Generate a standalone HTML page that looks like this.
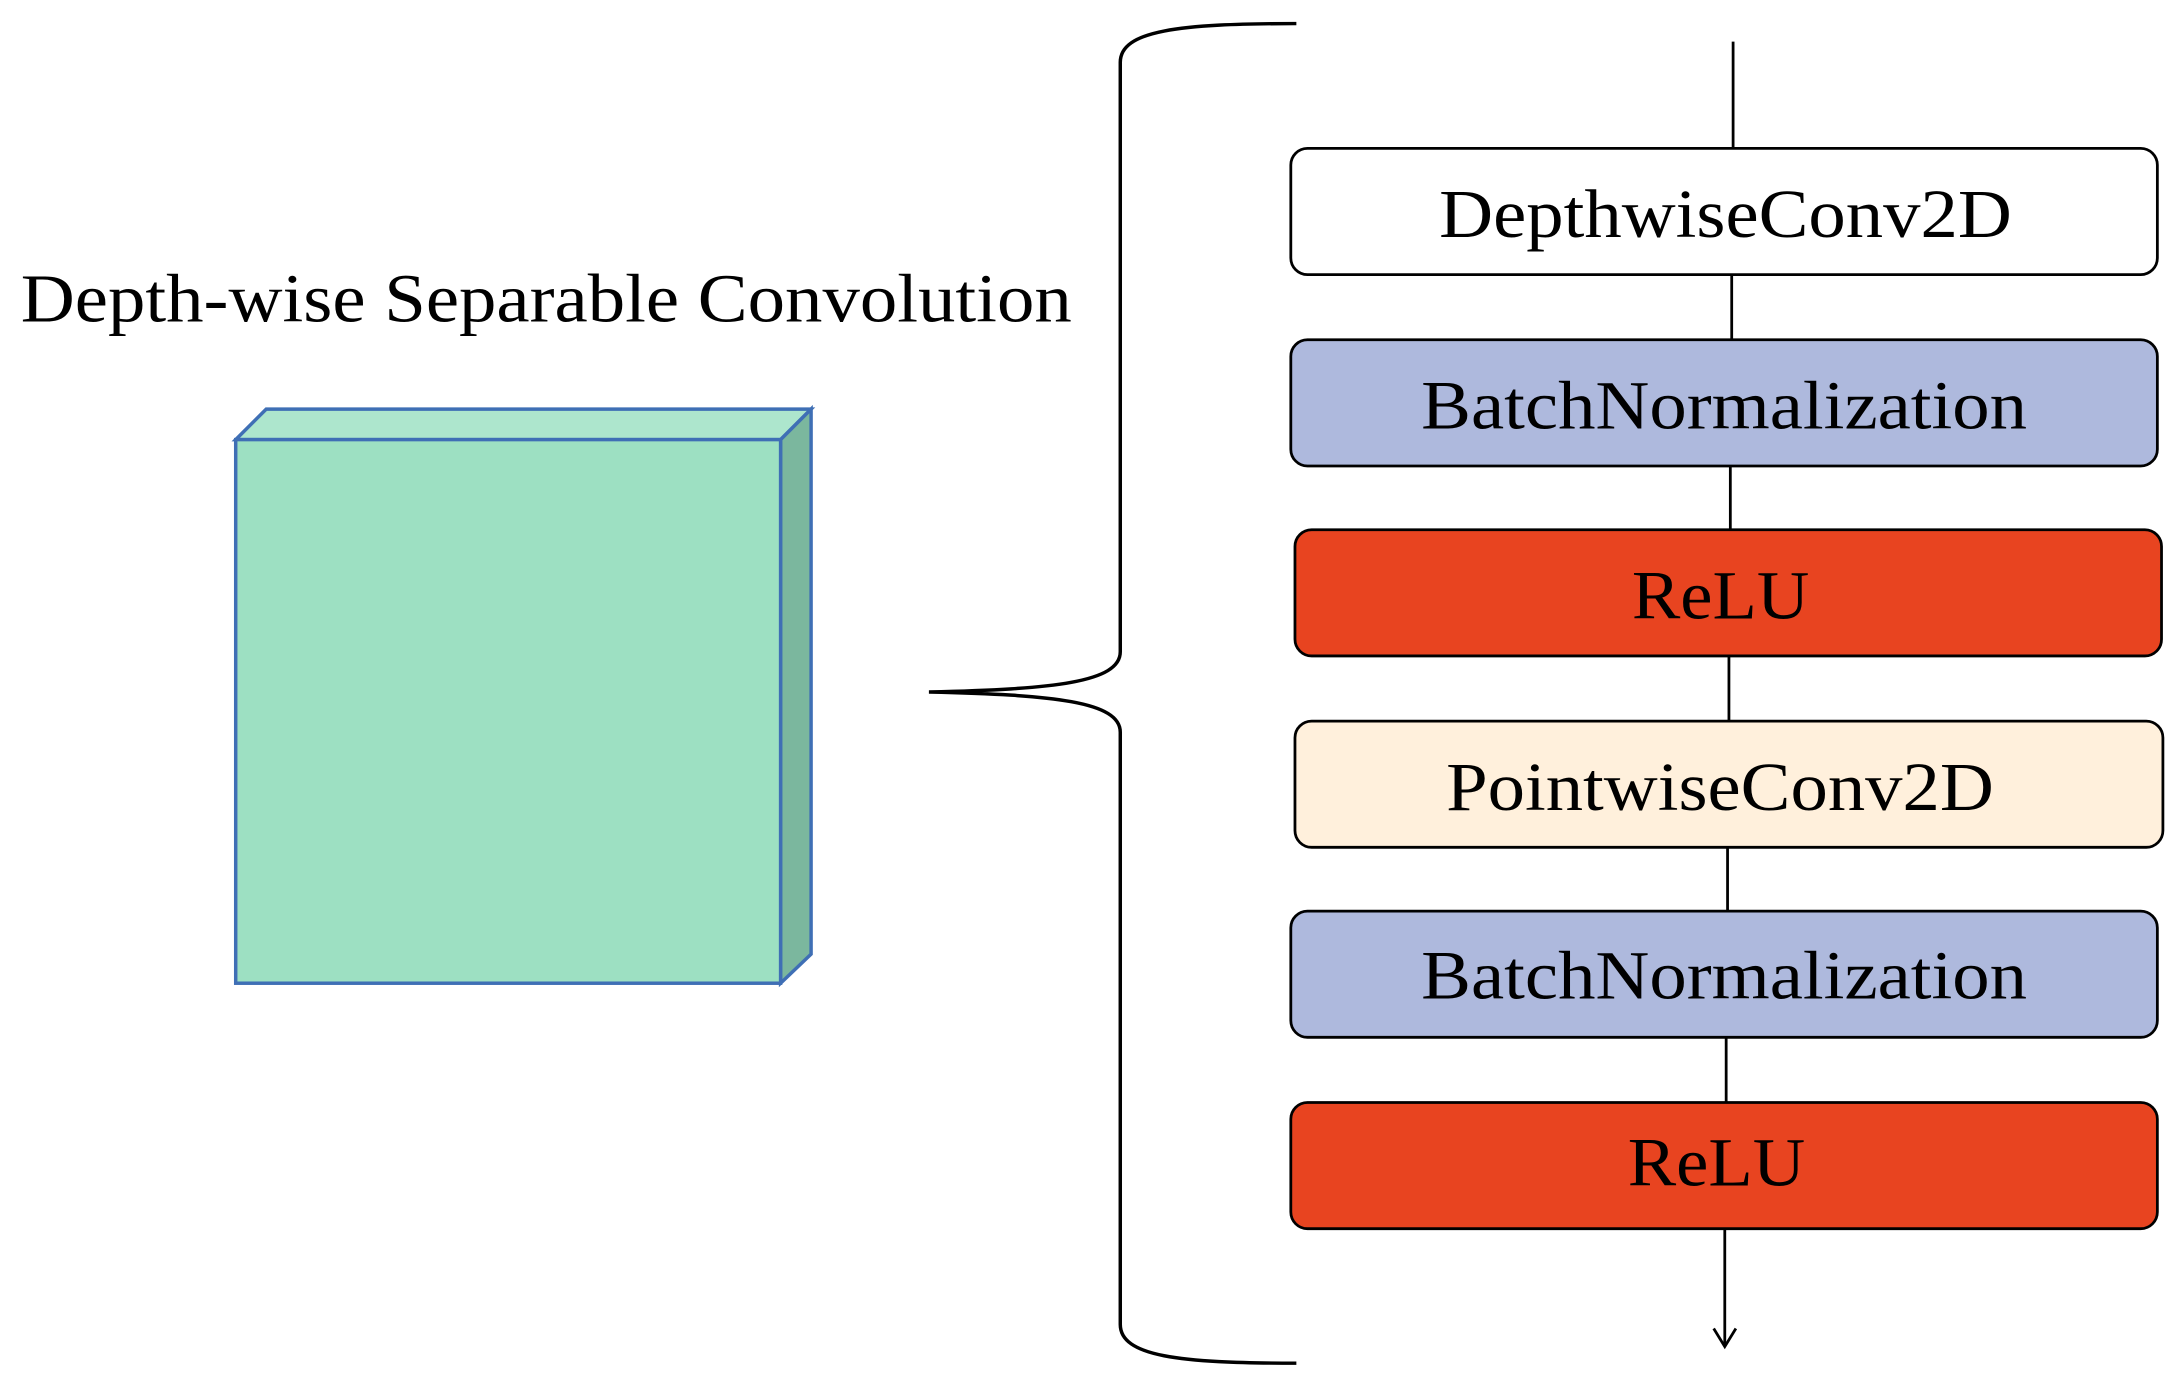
<!DOCTYPE html>
<html><head><style>html,body{margin:0;padding:0;background:#fff}svg{display:block}</style></head>
<body>
<svg width="2174" height="1384" viewBox="0 0 1568 998" preserveAspectRatio="none" xmlns="http://www.w3.org/2000/svg" font-family="Liberation Serif, serif">
<rect width="1568" height="998" fill="#fff"/>
<text x="15" y="232" font-size="50" fill="#000" textLength="758" lengthAdjust="spacingAndGlyphs">Depth-wise Separable Convolution</text>
<polygon points="170,317 192,295 585,295 563,317" fill="#ADE6CD" stroke="#3F6FB5" stroke-width="2.5"/>
<polygon points="563,317 585,295 585,688 563,709" fill="#7BB79E" stroke="#3F6FB5" stroke-width="2.5"/>
<rect x="170" y="317" width="393" height="392" fill="#9DE0C2" stroke="#3F6FB5" stroke-width="2.5"/>
<path d="M935,17 C850,17 808,22 808,45 L808,470 C808,492 760,497 670,499 C760,501 808,506 808,528 L808,955 C808,978 850,983 935,983" fill="none" stroke="#000" stroke-width="2.5"/>
<path d="M1250,30 L1250,107 M1249,198 L1249,245 M1248,336 L1248,382 M1247,473 L1247,520 M1246,611 L1246,657 M1245,748 L1245,795 M1244,886 L1244,970" stroke="#000" stroke-width="2"/>
<path d="M1236,958 L1244,971 L1252,958" fill="none" stroke="#000" stroke-width="2"/>
<g stroke="#000" stroke-width="2">
<rect x="931" y="107" width="625" height="91" rx="12" fill="#fff"/>
<rect x="931" y="245" width="625" height="91" rx="12" fill="#AEB9DD"/>
<rect x="934" y="382" width="625" height="91" rx="12" fill="#E84420"/>
<rect x="934" y="520" width="626" height="91" rx="12" fill="#FFF0DC"/>
<rect x="931" y="657" width="625" height="91" rx="12" fill="#AEB9DD"/>
<rect x="931" y="795" width="625" height="91" rx="12" fill="#E84420"/>
</g>
<g font-size="50" fill="#000" lengthAdjust="spacingAndGlyphs">
<text x="1038" y="171" textLength="413" lengthAdjust="spacingAndGlyphs">DepthwiseConv2D</text>
<text x="1025" y="309" textLength="437" lengthAdjust="spacingAndGlyphs">BatchNormalization</text>
<text x="1177" y="446" textLength="128" lengthAdjust="spacingAndGlyphs">ReLU</text>
<text x="1043" y="584" textLength="395" lengthAdjust="spacingAndGlyphs">PointwiseConv2D</text>
<text x="1025" y="720" textLength="437" lengthAdjust="spacingAndGlyphs">BatchNormalization</text>
<text x="1174" y="855" textLength="128" lengthAdjust="spacingAndGlyphs">ReLU</text>
</g>
</svg>
</body></html>
